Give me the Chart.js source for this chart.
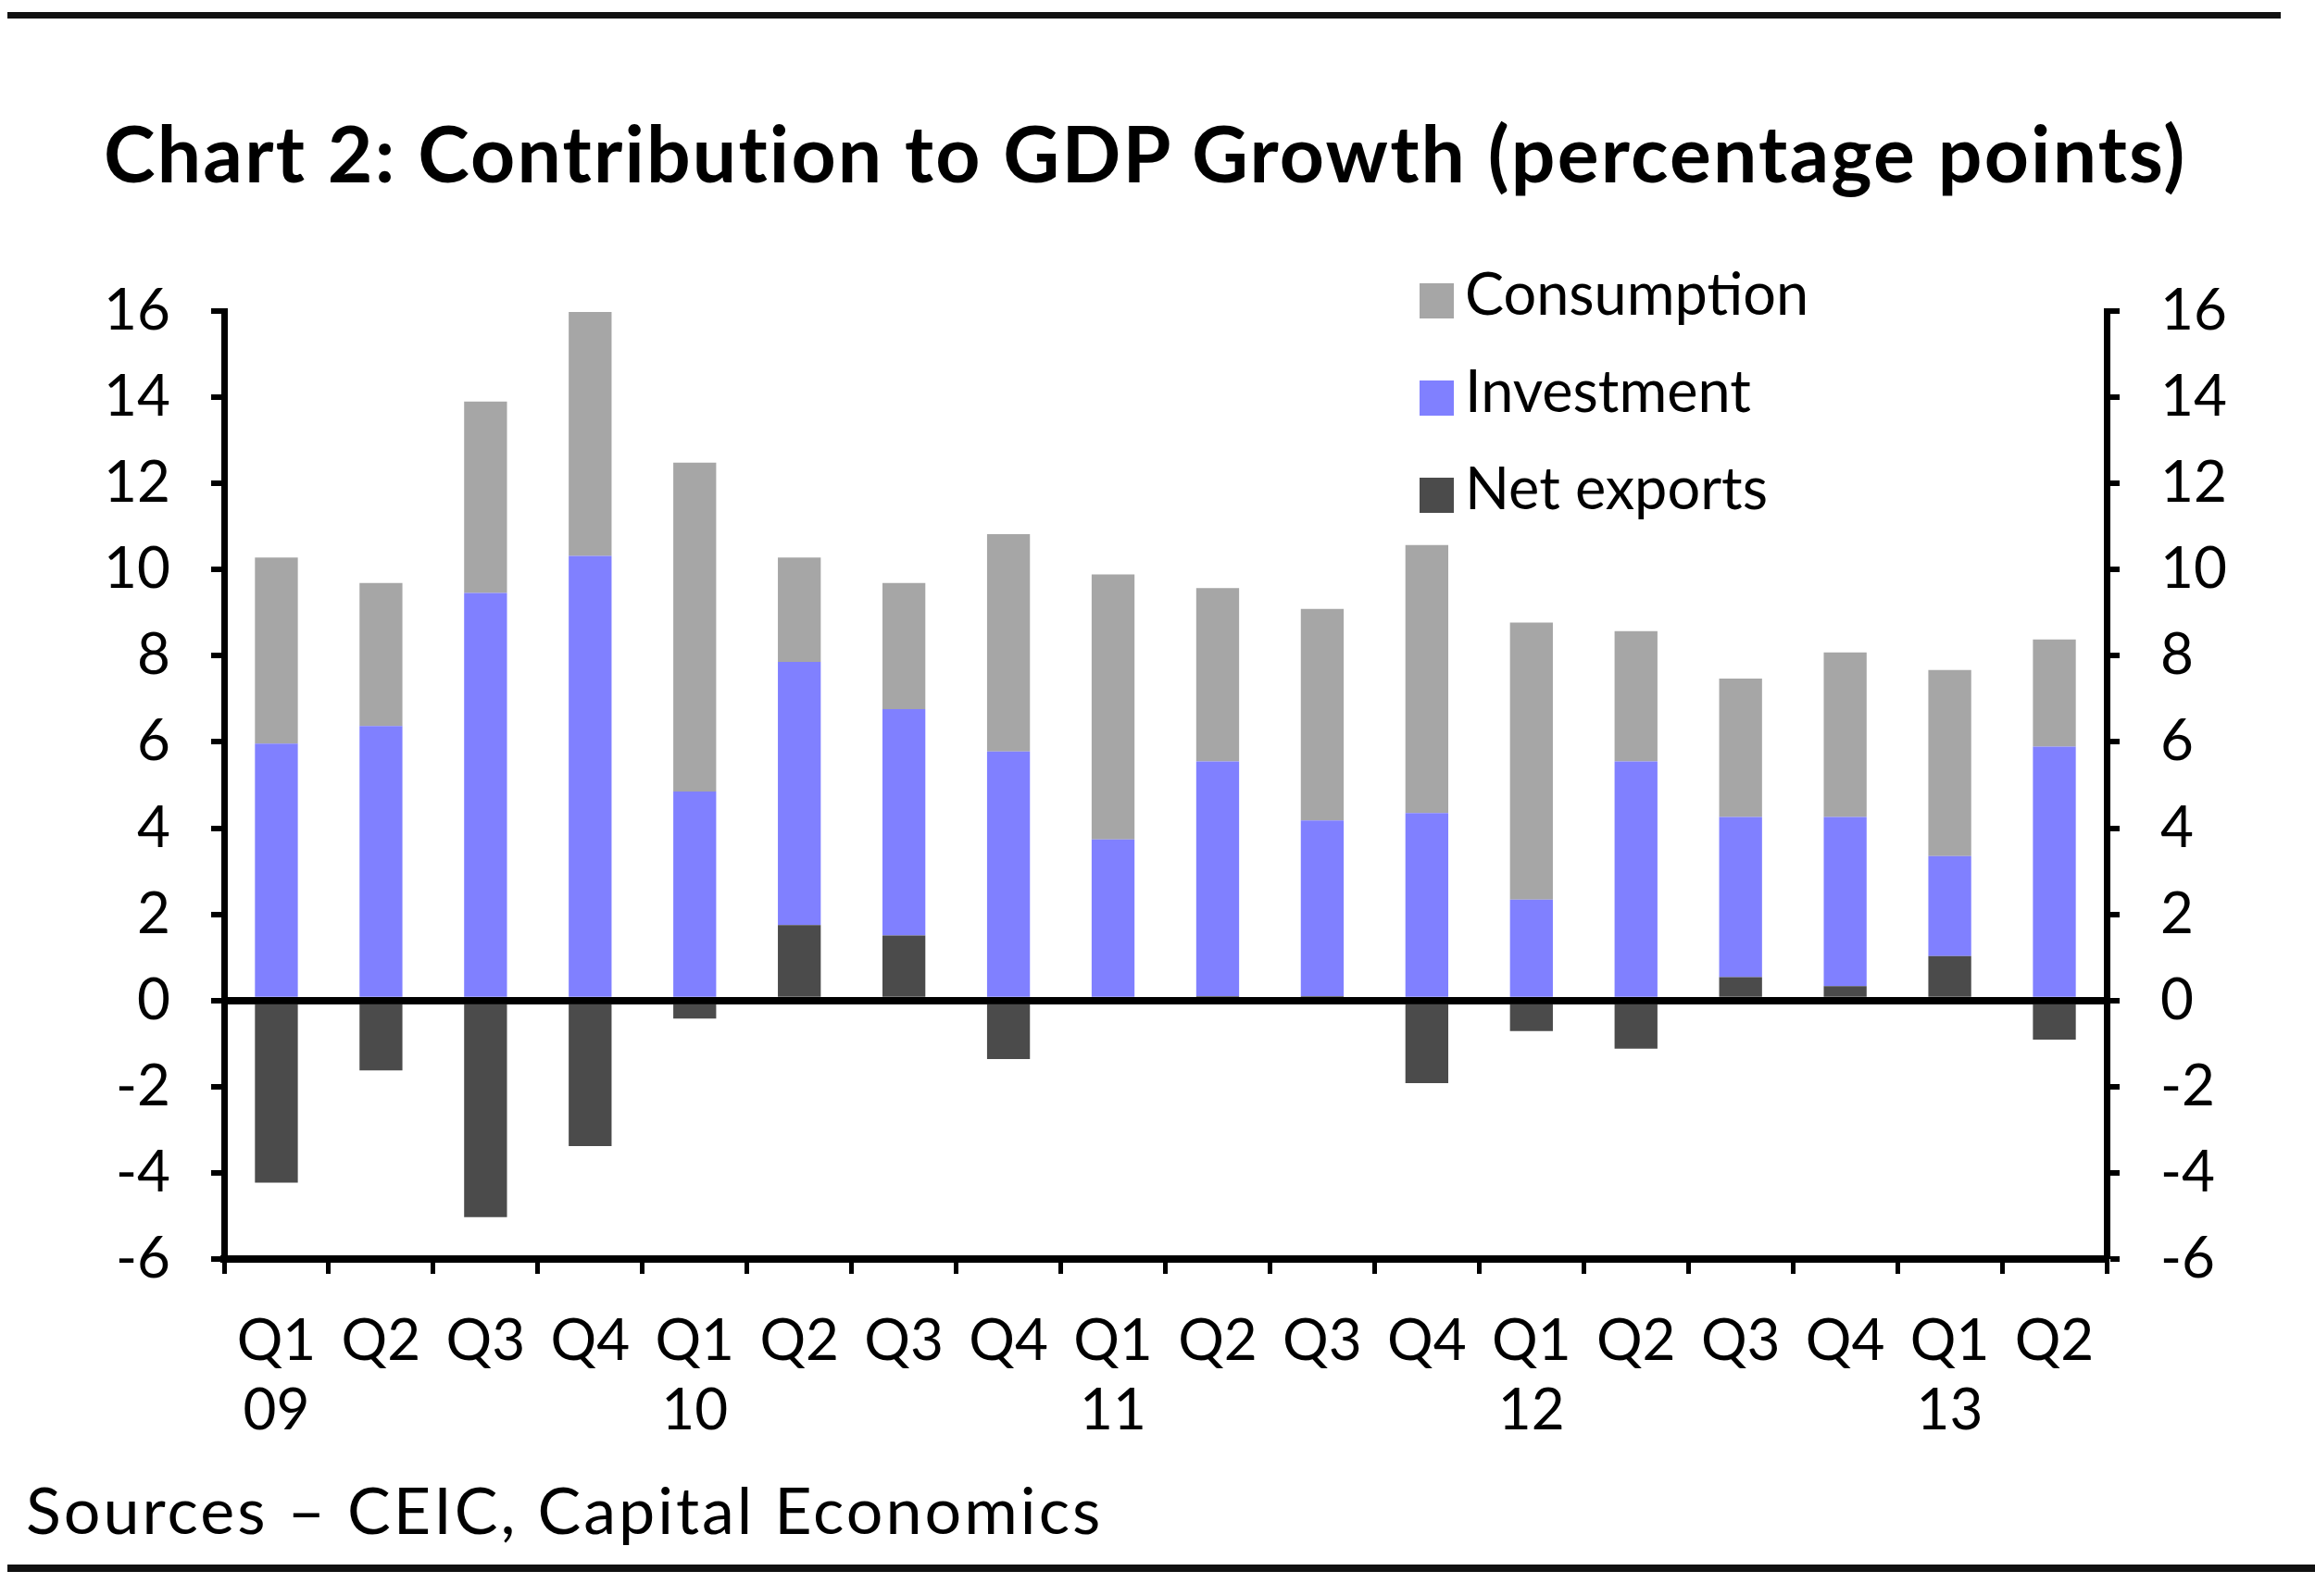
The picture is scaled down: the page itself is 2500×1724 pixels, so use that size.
<!DOCTYPE html>
<html>
<head>
<meta charset="utf-8">
<title>Contribution to GDP Growth</title>
<script src="https://cdn.jsdelivr.net/npm/chart.js@4.4.1/dist/chart.umd.min.js"></script>
<style>
  body { margin: 0; background: #fff; font-family: Lato, sans-serif; color: #000; }
  #page { position: relative; width: 2500px; height: 1724px; overflow: hidden; }
  #chart { position: absolute; left: 0; top: 0; }
  .rule { position: absolute; background: #111; }
  #title { position: absolute; left: 112px; top: 114px; font-size: 84px; font-weight: bold; letter-spacing: 2.2px; white-space: nowrap; }
  #legend { position: absolute; left: 1533px; top: 280px; font-size: 63px; }
  #legend div { height: 105px; line-height: 72px; white-space: nowrap; }
  #legend span.box { display: inline-block; width: 37px; height: 38px; margin-right: 12px; vertical-align: -4px; }
  #source { position: absolute; left: 28px; top: 1588px; font-size: 70px; letter-spacing: 3px; white-space: nowrap; }
</style>
</head>
<body>
<div id="page">
  <div class="rule" style="left:8px; top:13px; width:2455px; height:7px;"></div>
  <div id="title">Chart 2: Contribution to GDP Growth (percentage points)</div>
  <canvas id="chart" width="2500" height="1724"></canvas>
  <div id="legend"></div>
  <div id="source">Sources – CEIC, Capital Economics</div>
  <div class="rule" style="left:8px; top:1690px; width:2492px; height:8px;"></div>
</div>

<script>
// quarters Q1 2009 .. Q2 2013, year shown under each Q1
const quarters = ['Q1', 'Q2', 'Q3', 'Q4', 'Q1', 'Q2', 'Q3', 'Q4', 'Q1', 'Q2', 'Q3', 'Q4', 'Q1', 'Q2', 'Q3', 'Q4', 'Q1', 'Q2'];
const years    = ['09', '', '', '', '10', '', '', '', '11', '', '', '', '12', '', '', '', '13', ''];

// contributions in percentage points
const netExports  = [-4.23, -1.62, -5.03, -3.38, -0.42, 1.75, 1.51, -1.36, 0.0, 0.1, 0.1, -1.92, -0.71, -1.12, 0.54, 0.33, 1.03, -0.91];
const investment  = [5.96, 6.37, 9.46, 10.32, 4.85, 6.11, 5.25, 5.78, 3.74, 5.45, 4.08, 4.35, 2.34, 5.55, 3.72, 3.93, 2.32, 5.89];
const consumption = [4.32, 3.32, 4.44, 5.66, 7.63, 2.42, 2.93, 5.04, 6.15, 4.02, 4.91, 6.22, 6.43, 3.02, 3.21, 3.82, 4.32, 2.49];

const yTicks = [-6, -4, -2, 0, 2, 4, 6, 8, 10, 12, 14, 16];

const colors = { consumption: '#a6a6a6', investment: '#8080ff', netExports: '#4b4b4b' };

const labels = quarters.map((q, i) => years[i] ? [q, years[i]] : [q, '']);

const tickFont = { family: 'Lato', size: 62 };

function yAxis(position, width) {
  return {
    position: position,
    stacked: position === 'left',
    min: -6,
    max: 16,
    afterBuildTicks: scale => { scale.ticks = yTicks.map(v => ({ value: v })); },
    afterFit: scale => { scale.width = width; },
    border: { display: true, color: '#000', width: 7 },
    grid: {
      drawOnChartArea: position === 'left',
      color: c => (c.tick && c.tick.value === 0) ? '#000' : 'rgba(0,0,0,0)',
      lineWidth: c => (c.tick && c.tick.value === 0) ? 8 : 0,
      tickColor: '#000',
      tickWidth: 6,
      tickLength: 14
    },
    ticks: { color: '#000', font: tickFont, padding: 44 }
  };
}

const chart = new Chart(document.getElementById('chart'), {
  type: 'bar',
  data: {
    labels: labels,
    datasets: [
      { label: 'Net exports', data: netExports, backgroundColor: colors.netExports },
      { label: 'Investment', data: investment, backgroundColor: colors.investment },
      { label: 'Consumption', data: consumption, backgroundColor: colors.consumption }
    ]
  },
  options: {
    responsive: false,
    animation: false,
    devicePixelRatio: 1,
    layout: { padding: { top: 336, left: 0, right: 0, bottom: 0 } },
    datasets: { bar: { categoryPercentage: 1, barPercentage: 0.41 } },
    plugins: { legend: { display: false }, tooltip: { enabled: false } },
    scales: {
      x: {
        stacked: true,
        afterFit: scale => { scale.height = 1724 - 1360; },
        border: { display: true, color: '#000', width: 8 },
        grid: {
          offset: true,
          drawOnChartArea: false,
          color: '#000',
          tickColor: '#000',
          tickWidth: 5,
          tickLength: 16,
          lineWidth: 5
        },
        ticks: { color: '#000', font: tickFont, padding: 36, maxRotation: 0, autoSkip: false, lineHeight: 1.3 }
      },
      y: yAxis('left', 242),
      y2: yAxis('right', 2500 - 2275)
    }
  }
});

// legend, top to bottom in reverse stacking order
const legend = document.getElementById('legend');
chart.data.datasets.slice().reverse().forEach(ds => {
  const row = document.createElement('div');
  row.innerHTML = '<span class="box" style="background:' + ds.backgroundColor + '"></span>' + ds.label;
  legend.appendChild(row);
});
</script>
</body>
</html>
